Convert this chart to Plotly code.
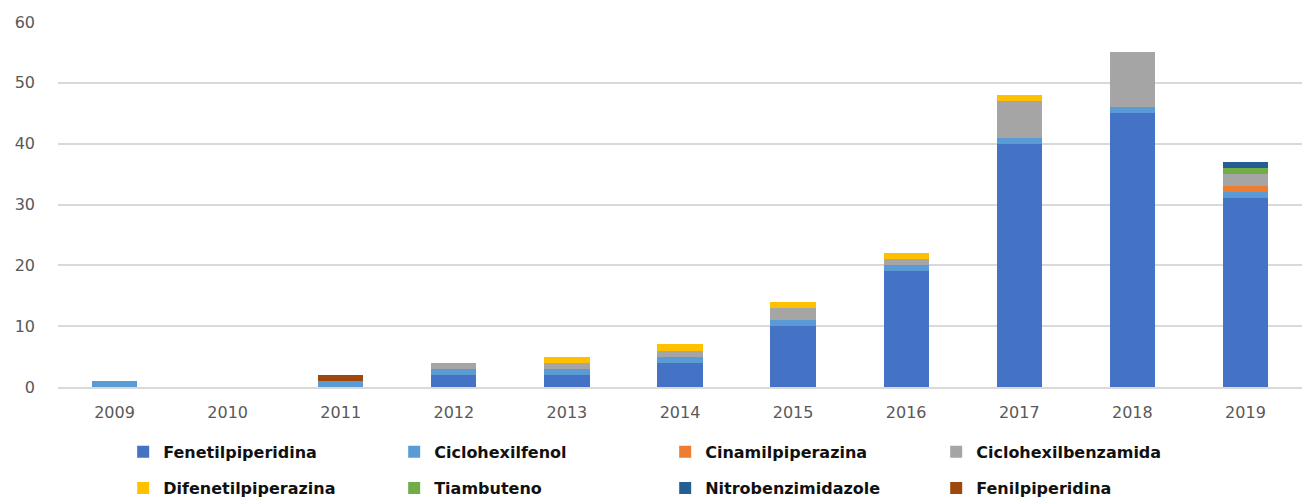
import plotly.graph_objects as go

years = ["2009", "2010", "2011", "2012", "2013", "2014", "2015", "2016", "2017", "2018", "2019"]

fenetilpiperidina = [0, 0, 0, 2, 2, 4, 10, 19, 40, 45, 31]
ciclohexilfenol = [1, 0, 1, 1, 1, 1, 1, 1, 1, 1, 1]
cinamilpiperazina = [0, 0, 0, 0, 0, 0, 0, 0, 0, 0, 1]
ciclohexilbenzamida = [0, 0, 0, 1, 1, 1, 2, 1, 6, 9, 2]
difenetilpiperazina = [0, 0, 0, 0, 1, 1, 1, 1, 1, 0, 0]
tiambuteno = [0, 0, 0, 0, 0, 0, 0, 0, 0, 0, 1]
nitrobenzimidazole = [0, 0, 0, 0, 0, 0, 0, 0, 0, 0, 1]
fenilpiperidina = [0, 0, 1, 0, 0, 0, 0, 0, 0, 0, 0]

series = [
    ("Fenetilpiperidina", fenetilpiperidina, "#4472C4", "legend"),
    ("Ciclohexilfenol", ciclohexilfenol, "#5B9BD5", "legend"),
    ("Cinamilpiperazina", cinamilpiperazina, "#ED7D31", "legend"),
    ("Ciclohexilbenzamida", ciclohexilbenzamida, "#A5A5A5", "legend"),
    ("Difenetilpiperazina", difenetilpiperazina, "#FFC000", "legend2"),
    ("Tiambuteno", tiambuteno, "#70AD47", "legend2"),
    ("Nitrobenzimidazole", nitrobenzimidazole, "#255E91", "legend2"),
    ("Fenilpiperidina", fenilpiperidina, "#9E480E", "legend2"),
]

fig = go.Figure()
for name, vals, color, lg in series:
    fig.add_trace(go.Bar(x=years, y=vals, name=name, marker_color=color,
                         marker_line_width=0, legend=lg))

legend_common = dict(orientation="h", xanchor="left", yanchor="middle",
                     entrywidth=226,
                     font=dict(family="DejaVu Sans", size=16, color="#111111", weight="bold"),
                     bgcolor="rgba(0,0,0,0)", traceorder="normal")

fig.update_layout(
    width=1302, height=502,
    margin=dict(l=58, r=0, t=22, b=115, autoexpand=False),
    barmode="stack",
    bargap=0.6,
    plot_bgcolor="white", paper_bgcolor="white",
    font=dict(family="DejaVu Sans", size=16, color="#595959"),
    legend=dict(x=0.0524, y=-0.178, **legend_common),
    legend2=dict(x=0.0524, y=-0.277, **legend_common),
    xaxis=dict(type="category", showgrid=False, showline=True, linecolor="#D9D9D9",
               linewidth=1.5, ticks="", ticklabelstandoff=10, automargin=False,
               tickfont=dict(size=16, color="#595959")),
    yaxis=dict(range=[0, 60], dtick=10, showgrid=True, gridcolor="#D9D9D9", gridwidth=1.5,
               zeroline=False, ticks="", ticklabelstandoff=22, automargin=False,
               tickfont=dict(size=16, color="#595959")),
)

fig.write_html("out.html", config={"displayModeBar": False},
               post_script="document.body.style.margin='0';")
